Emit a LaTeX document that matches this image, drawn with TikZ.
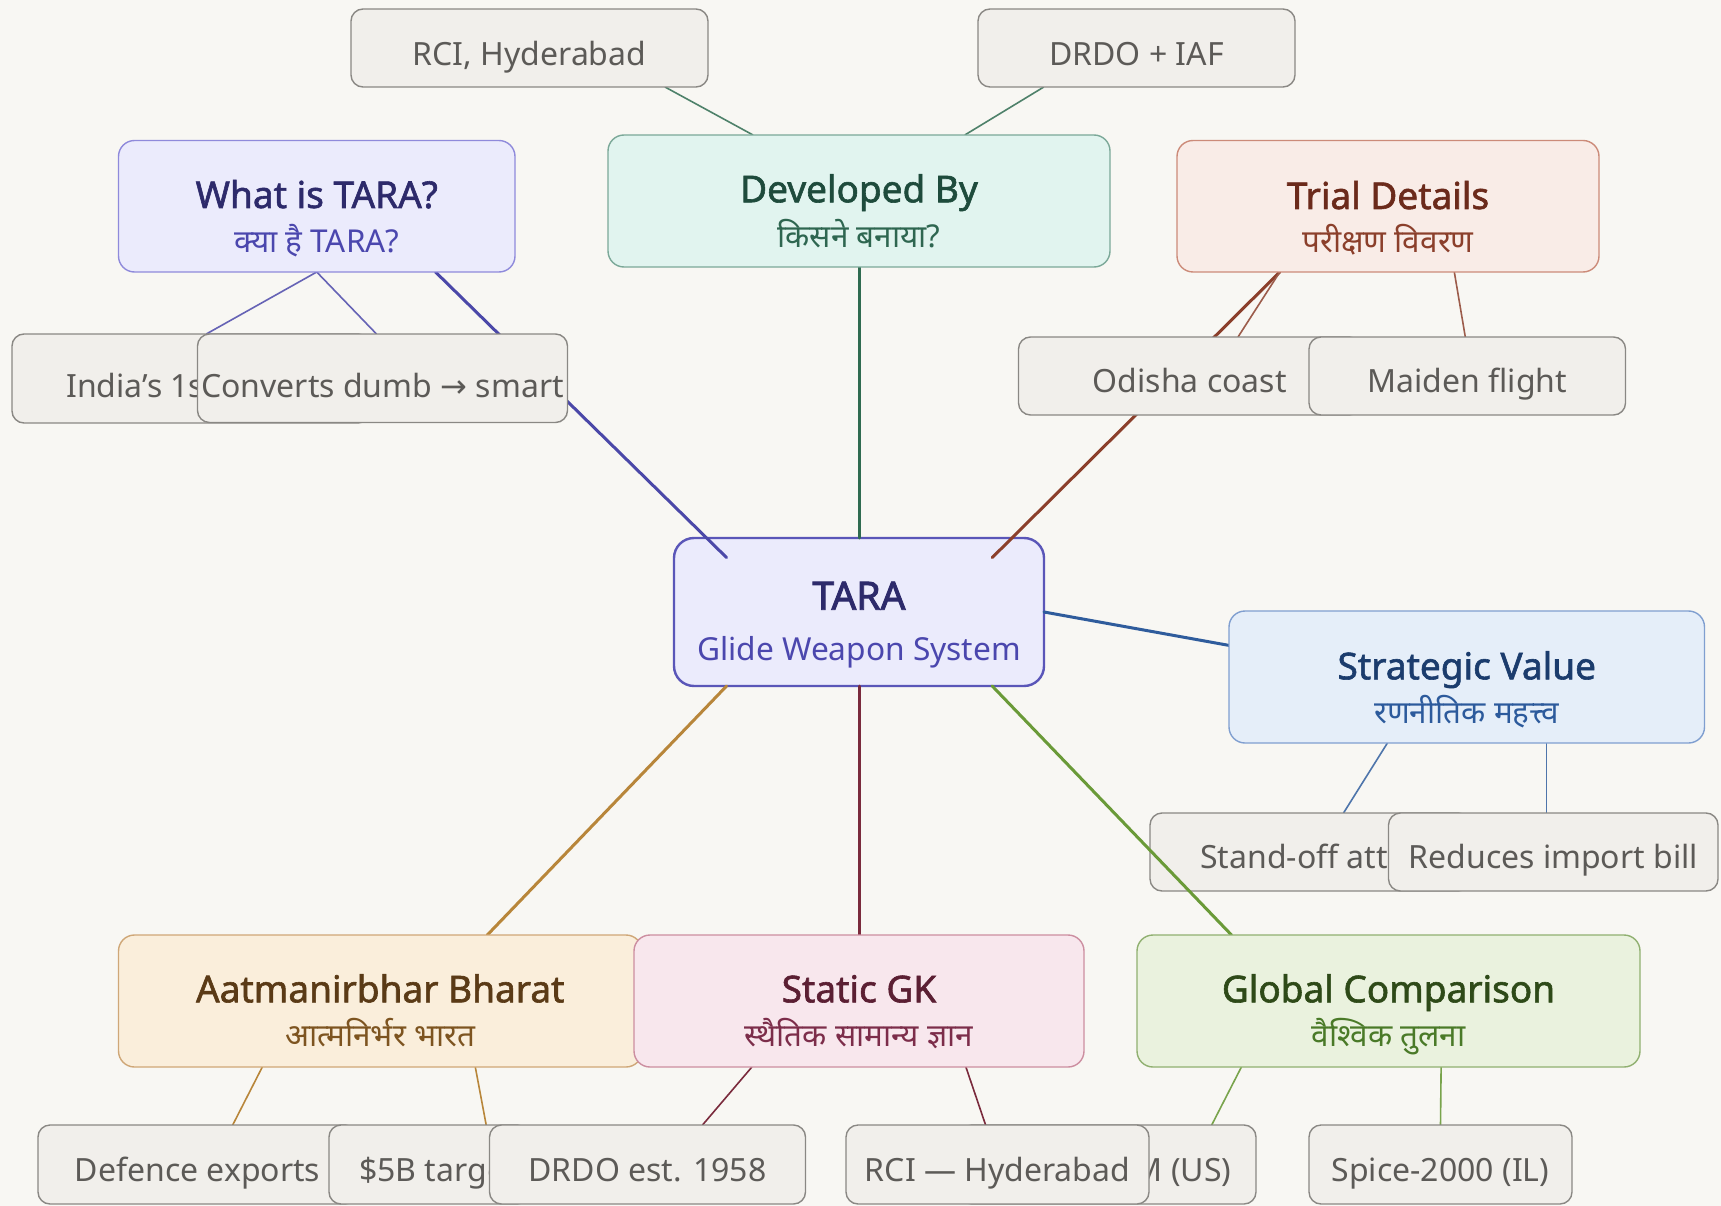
\documentclass[tikz,border=0pt]{standalone}
\usepackage{fontspec}
\setmainfont{Noto Sans}
\newfontfamily\deva[Script=Devanagari]{Noto Sans}
\newfontfamily\ttlfont[FakeBold=1.6]{Noto Sans}
\newfontfamily\tarafont[FakeBold=2.2]{Noto Sans}
\newfontfamily\djv{DejaVu Sans}
\usetikzlibrary{calc,fit}
\pgfdeclarelayer{bg}
\pgfdeclarelayer{eA}\pgfdeclarelayer{nA}
\pgfdeclarelayer{eB}\pgfdeclarelayer{nB}
\pgfdeclarelayer{eC}\pgfdeclarelayer{nC}
\pgfdeclarelayer{eD}\pgfdeclarelayer{nD}
\pgfdeclarelayer{eE}\pgfdeclarelayer{nE}
\pgfdeclarelayer{eF}\pgfdeclarelayer{nF}
\pgfdeclarelayer{eG}\pgfdeclarelayer{nG}
\pgfsetlayers{bg,eA,nA,eB,nB,eC,nC,eD,nD,eE,nE,eF,nF,eG,nG,main}

\definecolor{bgcol}{HTML}{F8F7F3}
\definecolor{leaffill}{HTML}{F1EFEB}
\definecolor{leafline}{HTML}{8A8884}
\definecolor{leaftxt}{HTML}{5C5A57}
\definecolor{pFill}{HTML}{EBEBFC}\definecolor{pLine}{HTML}{8F8ADB}
\definecolor{pTtl}{HTML}{2D2A6B}\definecolor{pSub}{HTML}{4B47AE}\definecolor{pEdge}{HTML}{4B48A8}
\definecolor{tLine}{HTML}{5A56B8}
\definecolor{gFill}{HTML}{E1F4EF}\definecolor{gLine}{HTML}{7BA898}
\definecolor{gTtl}{HTML}{1E4B3C}\definecolor{gSub}{HTML}{2E6650}\definecolor{gEdge}{HTML}{2F6B50}
\definecolor{rFill}{HTML}{F9ECE7}\definecolor{rLine}{HTML}{CC8B79}
\definecolor{rTtl}{HTML}{6B2A1B}\definecolor{rSub}{HTML}{8B3F2B}\definecolor{rEdge}{HTML}{8B3F2B}
\definecolor{bFill}{HTML}{E5EEF9}\definecolor{bLine}{HTML}{809FD0}
\definecolor{bTtl}{HTML}{1B3C6D}\definecolor{bSub}{HTML}{2C5A9C}\definecolor{bEdge}{HTML}{2F5C9C}
\definecolor{oFill}{HTML}{EAF2DE}\definecolor{oLine}{HTML}{90B070}
\definecolor{oTtl}{HTML}{2E4A18}\definecolor{oSub}{HTML}{4A7A28}\definecolor{oEdge}{HTML}{6A9A38}
\definecolor{aFill}{HTML}{FAEEDB}\definecolor{aLine}{HTML}{CFA777}
\definecolor{aTtl}{HTML}{5A3A16}\definecolor{aSub}{HTML}{7D5420}\definecolor{aEdge}{HTML}{B8863A}
\definecolor{sFill}{HTML}{F8E7ED}\definecolor{sLine}{HTML}{CC8EA0}
\definecolor{sTtl}{HTML}{5B1F33}\definecolor{sSub}{HTML}{7C2D4A}\definecolor{sEdge}{HTML}{7A2A3C}

\tikzset{
  leafbox/.style={draw=leafline, fill=leaffill, line width=1.4pt, rounded corners=12pt, inner sep=0pt, outer sep=0pt},
  catbox/.style={line width=1.4pt, rounded corners=16pt, inner sep=0pt, outer sep=0pt},
  leaftext/.style={inner sep=0pt, anchor=base, text=leaftxt, font=\fontsize{32}{38}\selectfont},
  ttl/.style={inner sep=0pt, anchor=base, font=\fontsize{37}{44}\selectfont\ttlfont},
  subt/.style={inner sep=0pt, anchor=base, font=\fontsize{31.5}{38}\selectfont\deva},
  mainedge/.style={line width=3pt, line cap=round},
  subedge/.style={line width=1.6pt},
}

\begin{document}
\begin{tikzpicture}[x=1pt,y=-1pt]
\useasboundingbox (0,0) rectangle (1721,1206);

\begin{pgfonlayer}{bg}
\fill[bgcol] (0,0) rectangle (1721,1206);
\node[catbox, draw=tLine, fill=pFill, line width=2.4pt, rounded corners=20pt, fit={(674,538)(1044,686)}] (tara) {};
\node[inner sep=0pt, anchor=base, text=pTtl, font=\fontsize{39}{46}\selectfont\tarafont] (tara-t) at (859,609.7) {TARA};
\node[inner sep=0pt, anchor=base, text=pSub, font=\fontsize{31.7}{38}\selectfont] (tara-s) at (859,660.2) {Glide Weapon System};
\end{pgfonlayer}

% branch A
\begin{pgfonlayer}{nA}
\node[catbox, draw=pLine, fill=pFill, fit={(118.5,140.5)(515,272)}] (what) {};
\node[ttl, text=pTtl] (what-t) at (316.75,208) {What is TARA?};
\node[subt, text=pSub] (what-s) at (316.75,252.7) {क्या है TARA?};
\node[leafbox, fit={(12,334)(370,423)}] (india) {};
\node[leaftext, anchor=base west] (india-t) at (66,397.7) {India’s 1st};
\node[leafbox, fit={(197.5,334)(567.5,422.5)}] (conv) {};
\node[leaftext] (conv-t) at (382.5,397.7) {Converts dumb {\djv →} smart};
\end{pgfonlayer}
\begin{pgfonlayer}{eA}
\draw[mainedge, pEdge] ($(tara.north west)+(52.6,19.6)$) -- ($(what.south west)+(317,0)$);
\draw[subedge, pEdge!85!white] (what.south) -- ($(india.north west)+(194.3,0)$);
\draw[subedge, pEdge!85!white] (what.south) -- ($(conv.north west)+(179,0)$);
\end{pgfonlayer}

% branch B
\begin{pgfonlayer}{nB}
\node[catbox, draw=gLine, fill=gFill, fit={(608,135)(1110,267)}] (dev) {};
\node[ttl, text=gTtl] (dev-t) at (859,202.3) {Developed By};
\node[subt, text=gSub] (dev-s) at (859,247.5) {किसने बनाया?};
\node[leafbox, fit={(351,9)(708,87)}] (rci) {};
\node[leaftext] (rci-t) at (529.5,65.7) {RCI, Hyderabad};
\node[leafbox, fit={(978,9)(1295,87)}] (drdo) {};
\node[leaftext] (drdo-t) at (1136.5,65.7) {DRDO + IAF};
\end{pgfonlayer}
\begin{pgfonlayer}{eB}
\draw[mainedge, gEdge] (tara.north) -- (dev.south);
\draw[subedge, gEdge!85!white] ($(dev.north west)+(145,0)$) -- ($(rci.south east)+(-43,0)$);
\draw[subedge, gEdge!85!white] ($(dev.north east)+(-145.2,0)$) -- ($(drdo.south west)+(65.8,0)$);
\end{pgfonlayer}

% branch C
\begin{pgfonlayer}{nC}
\node[catbox, draw=rLine, fill=rFill, fit={(1177,140.5)(1599,272)}] (trial) {};
\node[ttl, text=rTtl] (trial-t) at (1388,209) {Trial Details};
\node[subt, text=rSub] (trial-s) at (1388,252.7) {परीक्षण विवरण};
\node[leafbox, fit={(1018.5,337)(1361,415)}] (odisha) {};
\node[leaftext] (odisha-t) at (1189.75,392.7) {Odisha coast};
\node[leafbox, fit={(1309,337)(1625.5,415)}] (maiden) {};
\node[leaftext] (maiden-t) at (1467.25,392.7) {Maiden flight};
\end{pgfonlayer}
\begin{pgfonlayer}{eC}
\draw[mainedge, rEdge] ($(tara.north east)+(-51.8,19.6)$) -- ($(trial.south west)+(102.8,0)$);
\draw[subedge, rEdge!85!white] ($(trial.south west)+(102.8,0)$) -- ($(odisha.north west)+(219.5,0)$);
\draw[subedge, rEdge!85!white] ($(trial.south west)+(277.3,0)$) -- ($(maiden.north west)+(156.3,0)$);
\end{pgfonlayer}

% branch D
\begin{pgfonlayer}{nD}
\node[catbox, draw=bLine, fill=bFill, fit={(1229,611)(1704.5,743)}] (strat) {};
\node[ttl, text=bTtl] (strat-t) at (1466.75,679.3) {Strategic Value};
\node[subt, text=bSub] (strat-s) at (1466.75,723.5) {रणनीतिक महत्त्व};
\node[leafbox, fit={(1150,813)(1470,891)}] (stand) {};
\node[leaftext, anchor=base west] (stand-t) at (1200,868.7) {Stand-off att};
\node[leafbox, fit={(1388.5,813)(1718,891)}] (reduce) {};
\node[leaftext] (reduce-t) at (1553.25,868.7) {Reduces import bill};
\end{pgfonlayer}
\begin{pgfonlayer}{eD}
\draw[mainedge, bEdge] (tara.east) -- ($(strat.north west)+(0,34.4)$);
\draw[subedge, bEdge!85!white] ($(strat.south west)+(158.4,0)$) -- ($(stand.north west)+(193.5,0)$);
\draw[subedge, bEdge!85!white] ($(strat.south west)+(317.5,0)$) -- ($(reduce.north west)+(158,0)$);
\end{pgfonlayer}

% branch E
\begin{pgfonlayer}{nE}
\node[catbox, draw=oLine, fill=oFill, fit={(1137,935)(1640,1067)}] (glob) {};
\node[ttl, text=oTtl] (glob-t) at (1388.5,1002.3) {Global Comparison};
\node[subt, text=oSub] (glob-s) at (1388.5,1046.5) {वैश्विक तुलना};
\node[leafbox, fit={(960,1125)(1256,1204)}] (jdam) {};
\node[leaftext, anchor=base east] (jdam-t) at (1231.5,1181.7) {M (US)};
\node[leafbox, fit={(1309,1125)(1572,1204)}] (spice) {};
\node[leaftext] (spice-t) at (1440.5,1181.7) {Spice-2000 (IL)};
\end{pgfonlayer}
\begin{pgfonlayer}{eE}
\draw[mainedge, oEdge] ($(tara.south east)+(-51.8,0)$) -- ($(glob.north west)+(94.5,0)$);
\draw[subedge, oEdge!90!white] ($(glob.south west)+(104.4,0)$) -- ($(jdam.north east)+(-44.3,0)$);
\draw[subedge, oEdge!90!white] ($(glob.south west)+(304.1,0)$) -- (spice.north);
\end{pgfonlayer}

% branch F
\begin{pgfonlayer}{nF}
\node[catbox, draw=aLine, fill=aFill, fit={(118.5,935)(642,1067)}] (aat) {};
\node[ttl, text=aTtl] (aat-t) at (380.25,1002.3) {Aatmanirbhar Bharat};
\node[subt, text=aSub] (aat-s) at (380.25,1046.5) {आत्मनिर्भर भारत};
\node[leafbox, fit={(38,1125)(357,1204)}] (defence) {};
\node[leaftext] (defence-t) at (197.5,1181.7) {Defence exports};
\node[leafbox, fit={(329,1125)(529,1204)}] (five) {};
\node[leaftext, anchor=base west] (five-t) at (359,1181.7) {\$5B target};
\end{pgfonlayer}
\begin{pgfonlayer}{eF}
\draw[mainedge, aEdge] ($(tara.south west)+(52.6,0)$) -- ($(aat.north west)+(368.8,0)$);
\draw[subedge, aEdge] ($(aat.south west)+(143.8,0)$) -- ($(defence.north west)+(194.7,0)$);
\draw[subedge, aEdge] ($(aat.south west)+(356.8,0)$) -- ($(five.north west)+(157.2,0)$);
\end{pgfonlayer}

% branch G
\begin{pgfonlayer}{nG}
\node[catbox, draw=sLine, fill=sFill, fit={(634,935)(1084,1067)}] (stat) {};
\node[ttl, text=sTtl] (stat-t) at (859,1002.3) {Static GK};
\node[subt, text=sSub] (stat-s) at (859,1046.5) {स्थैतिक सामान्य ज्ञान};
\node[leafbox, fit={(489.5,1125)(805.5,1204)}] (drdoest) {};
\node[leaftext] (drdoest-t) at (647.5,1181.7) {DRDO est. 1958};
\node[leafbox, fit={(846,1125)(1149,1204)}] (rcih) {};
\node[leaftext] (rcih-t) at (997.5,1181.7) {RCI — Hyderabad};
\end{pgfonlayer}
\begin{pgfonlayer}{eG}
\draw[mainedge, sEdge] (tara.south) -- (stat.north);
\draw[subedge, sEdge] ($(stat.south west)+(117.9,0)$) -- ($(drdoest.north west)+(213,0)$);
\draw[subedge, sEdge] ($(stat.south east)+(-118.1,0)$) -- ($(rcih.north west)+(139.6,0)$);
\end{pgfonlayer}
\end{tikzpicture}
\end{document}
